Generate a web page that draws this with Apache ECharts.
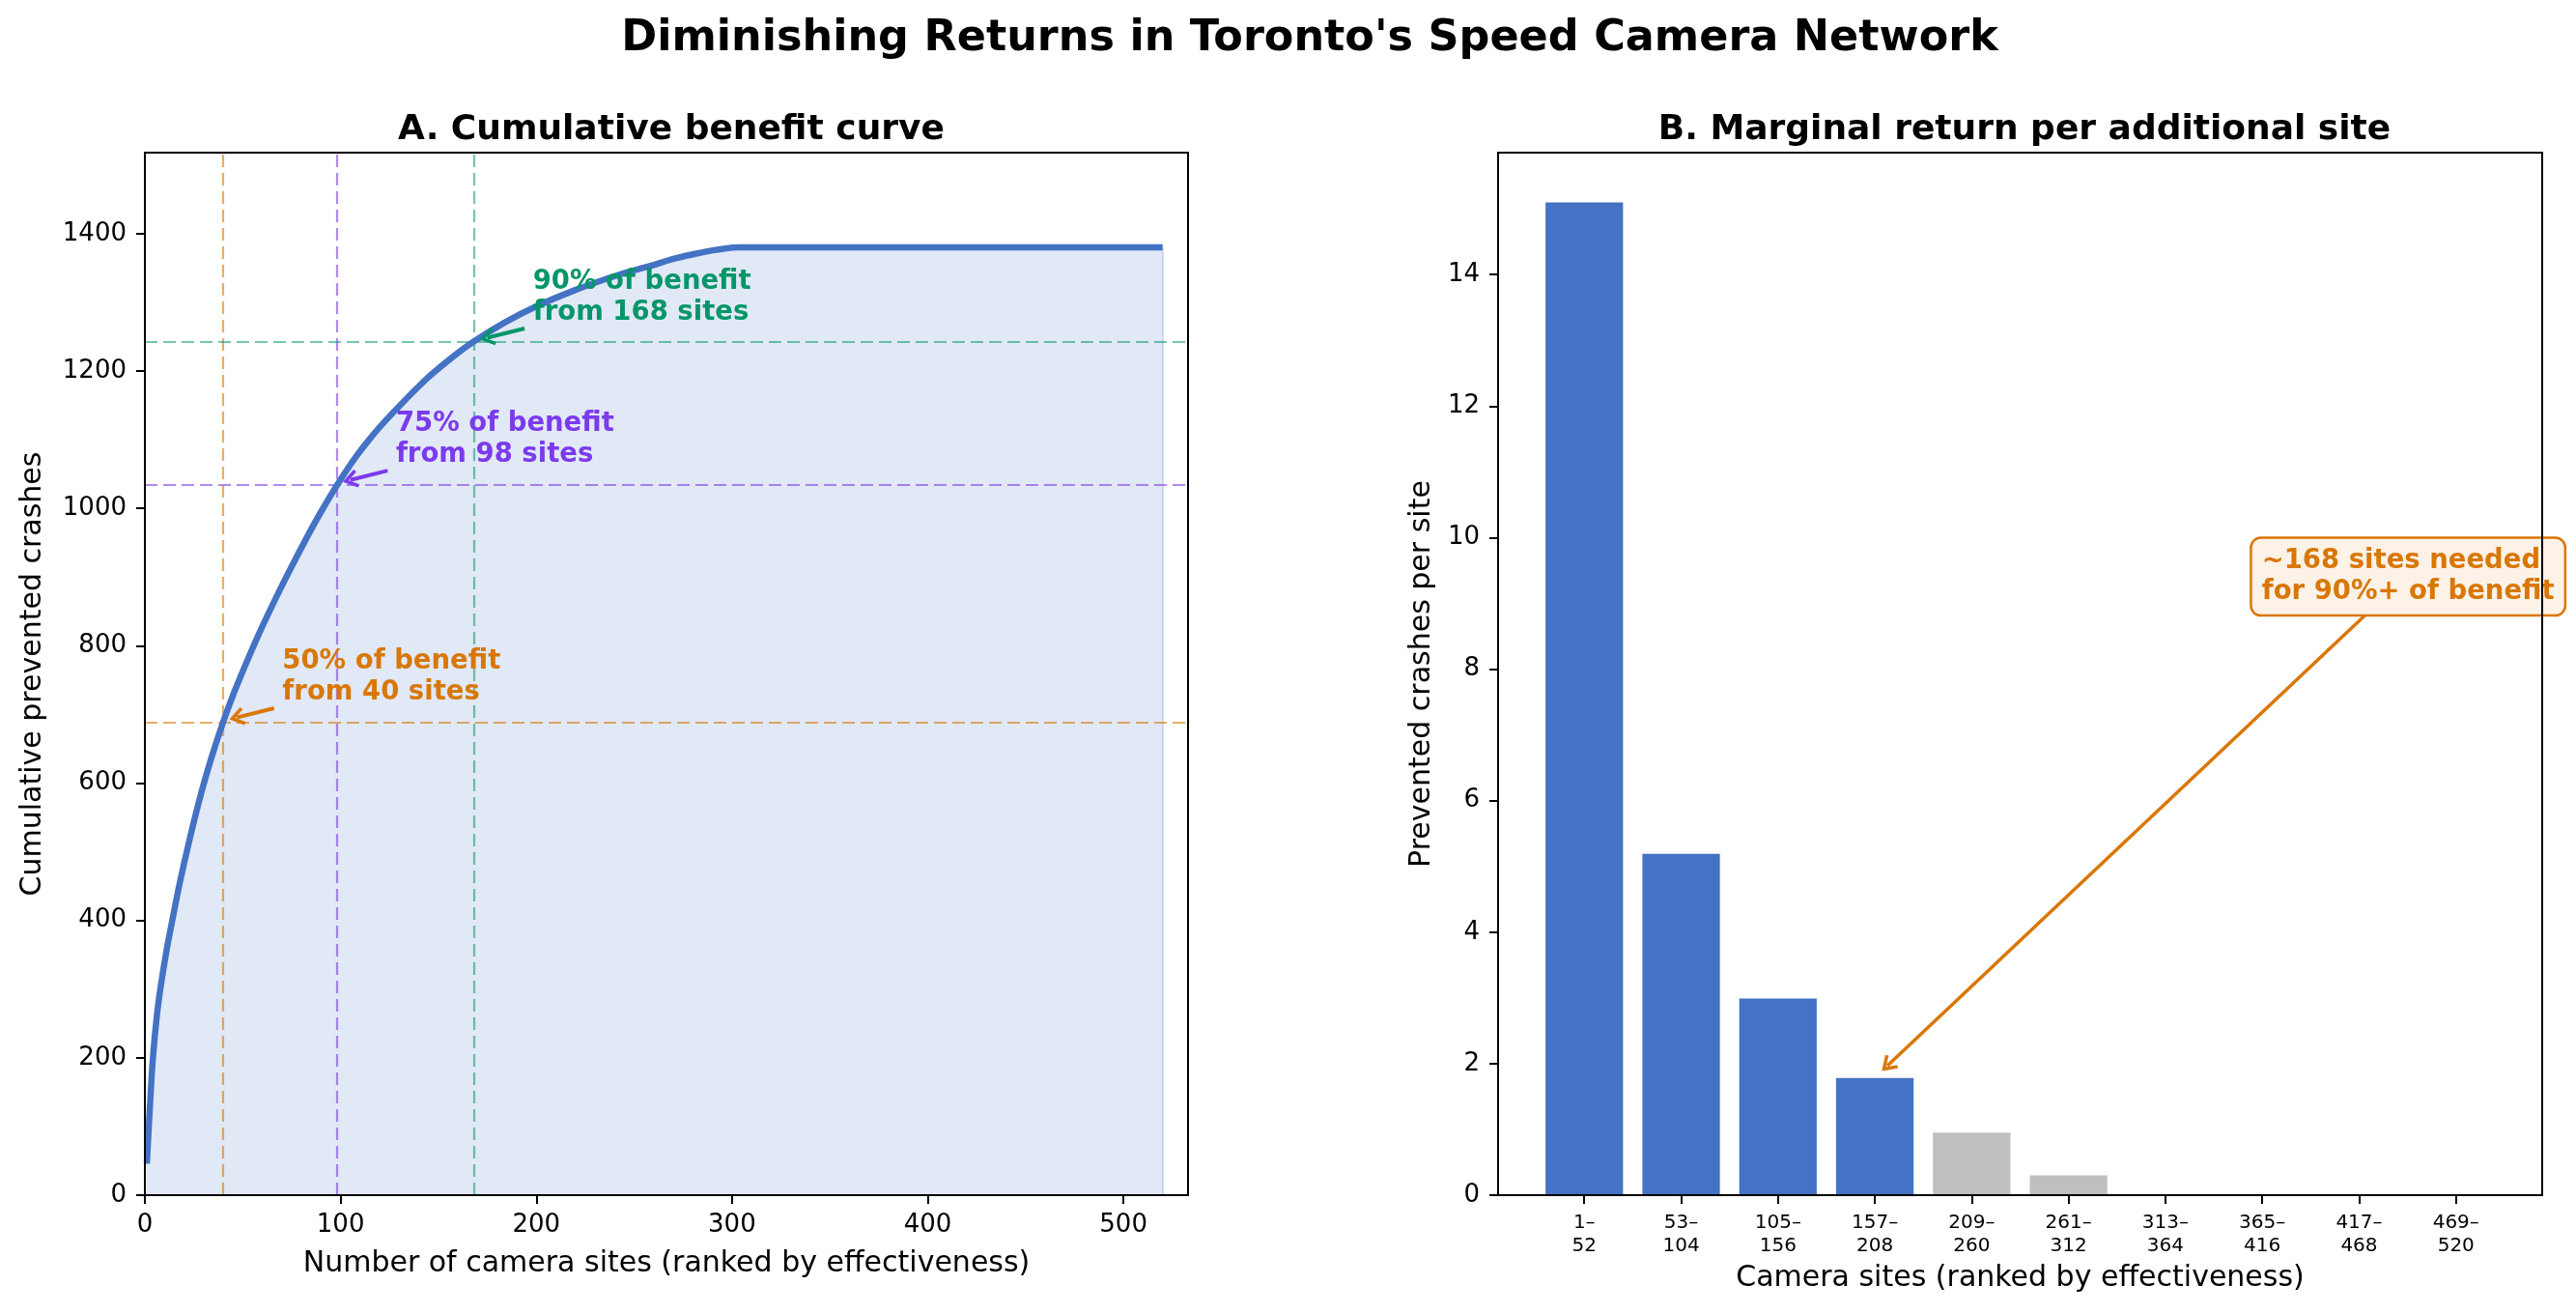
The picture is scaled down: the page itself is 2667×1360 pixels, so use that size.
<!DOCTYPE html>
<html><head><meta charset="utf-8">
<script src="https://cdn.jsdelivr.net/npm/echarts@6/dist/echarts.min.js"></script>
<style>html,body{margin:0;padding:0;background:#fff}#c{width:2667px;height:1360px}</style>
</head><body><div id="c"></div>
<script>
// ---- data ----
const curveSites  = [1, 2, 3, 4, 6, 8, 11, 14, 18, 23, 29, 34, 40, 46, 53, 60, 67, 74, 83, 90, 98, 107, 116, 124, 131, 139, 146, 157, 168, 184, 199, 219, 242, 257, 271, 285, 293, 304, 520];
const curveValues = [46, 100, 150, 196, 258, 302, 355, 400, 457, 520, 588, 637, 689, 735, 783, 828, 870, 910, 959, 995, 1033, 1072, 1105, 1131, 1152, 1175, 1194, 1220, 1243, 1271, 1293, 1317, 1340, 1352, 1364, 1373, 1377, 1380, 1380];
const milestoneSites  = [40, 98, 168];
const milestoneValues = [689, 1035, 1242];
const milestonePct    = ['50%', '75%', '90%'];
const milestoneColors = ['#D97706', '#7C3AED', '#059669'];
const milestoneLineColors = ['rgba(217,119,6,0.6)', 'rgba(124,58,237,0.6)', 'rgba(5,150,105,0.55)'];
const binLabels = ['1–\n52', '53–\n104', '105–\n156', '157–\n208', '209–\n260', '261–\n312', '313–\n364', '365–\n416', '417–\n468', '469–\n520'];
const binValues = [15.1, 5.19, 2.99, 1.78, 0.95, 0.30, 0, 0, 0, 0];
const binsForNinety = 4;
const leftXTicks  = [0, 100, 200, 300, 400, 500];
const leftYTicks  = [0, 200, 400, 600, 800, 1000, 1200, 1400];
const rightYTicks = [0, 2, 4, 6, 8, 10, 12, 14];
const rightXTicks = binLabels.map((_, i) => i);
const boxText = '~168 sites needed\nfor 90%+ of benefit';

const FONT = 'DejaVu Sans';
const chevron = 'path://M5,0 L10,7.6 L8.5,8.8 L5,3.4 L1.5,8.8 L0,7.6 Z';
const curveData = curveSites.map((s, i) => [s, curveValues[i]]);
const lastSite = curveSites[curveSites.length - 1];
const lastVal = curveValues[curveValues.length - 1];
const plain = v => String(v);

const axisCommon = {
  axisLine: { show: true, onZero: false, lineStyle: { color: '#000', width: 2 } },
  axisTick: { show: true, length: 9, lineStyle: { color: '#000', width: 2 } },
  splitLine: { show: false },
  nameTextStyle: { fontFamily: FONT, fontSize: 30, color: '#000' },
  nameLocation: 'middle'
};

const option = {
  animation: false,
  backgroundColor: '#fff',
  textStyle: { fontFamily: FONT },
  title: [
    { text: "Diminishing Returns in Toronto's Speed Camera Network", left: 1351, top: 13, textAlign: 'center',
      textStyle: { fontFamily: FONT, fontSize: 44.5, fontWeight: 'bold', color: '#000' } },
    { text: 'A. Cumulative benefit curve', left: 690, top: 112, textAlign: 'center',
      textStyle: { fontFamily: FONT, fontSize: 36, fontWeight: 'bold', color: '#000' } },
    { text: 'B. Marginal return per additional site', left: 2091, top: 112, textAlign: 'center',
      textStyle: { fontFamily: FONT, fontSize: 36, fontWeight: 'bold', color: '#000' } }
  ],
  grid: [
    { left: 150, top: 158, width: 1080, height: 1079, show: true, borderColor: '#000', borderWidth: 2, z: 10, backgroundColor: 'transparent' },
    { left: 1551, top: 158, width: 1081, height: 1079, show: true, borderColor: '#000', borderWidth: 2, z: 10, backgroundColor: 'transparent' }
  ],
  xAxis: [
    Object.assign({}, axisCommon, {
      type: 'value', gridIndex: 0, min: 0, max: 533, interval: 100,
      name: 'Number of camera sites (ranked by effectiveness)', nameGap: 56,
      axisTick: Object.assign({}, axisCommon.axisTick, { customValues: leftXTicks }),
      axisLabel: { customValues: leftXTicks, fontSize: 26, color: '#000', margin: 18, fontFamily: FONT, formatter: plain }
    }),
    Object.assign({}, axisCommon, {
      type: 'value', gridIndex: 1, min: -0.89, max: 9.89,
      name: 'Camera sites (ranked by effectiveness)', nameGap: 71,
      axisTick: Object.assign({}, axisCommon.axisTick, { customValues: rightXTicks }),
      axisLabel: { customValues: rightXTicks, fontSize: 20, lineHeight: 24, color: '#000', margin: 17, fontFamily: FONT,
        formatter: v => binLabels[Math.round(v)] || '' }
    })
  ],
  yAxis: [
    Object.assign({}, axisCommon, {
      type: 'value', gridIndex: 0, min: 0, max: 1518, interval: 200,
      name: 'Cumulative prevented crashes', nameGap: 101,
      axisTick: Object.assign({}, axisCommon.axisTick, { customValues: leftYTicks }),
      axisLabel: { customValues: leftYTicks, fontSize: 26, color: '#000', margin: 19, fontFamily: FONT, formatter: plain }
    }),
    Object.assign({}, axisCommon, {
      type: 'value', gridIndex: 1, min: 0, max: Math.max(...binValues) * 1.05, interval: 2,
      name: 'Prevented crashes per site', nameGap: 64,
      axisTick: Object.assign({}, axisCommon.axisTick, { customValues: rightYTicks }),
      axisLabel: { customValues: rightYTicks, fontSize: 26, color: '#000', margin: 19, fontFamily: FONT, formatter: plain }
    })
  ],
  series: [
    { // shaded area under the curve
      type: 'line', xAxisIndex: 0, yAxisIndex: 0, z: 1, data: curveData,
      showSymbol: false, smooth: 0.4, silent: true,
      lineStyle: { width: 0, opacity: 0 },
      areaStyle: { color: 'rgba(68,114,196,0.16)', opacity: 1, origin: 'start' },
      markLine: {
        silent: true, symbol: 'none', z: 1, label: { show: false },
        lineStyle: { color: 'rgba(68,114,196,0.22)', width: 2, type: 'solid' },
        data: [[{ coord: [lastSite, 0] }, { coord: [lastSite, lastVal] }]]
      }
    },
    { // reference dashed lines
      type: 'line', xAxisIndex: 0, yAxisIndex: 0, z: 2, data: [], silent: true,
      markLine: {
        silent: true, symbol: 'none', z: 2, label: { show: false },
        data: milestoneSites.flatMap((s, i) => [
          { xAxis: s, lineStyle: { color: milestoneLineColors[i], width: 2.2, type: [13, 6] } },
          { yAxis: milestoneValues[i], lineStyle: { color: milestoneLineColors[i], width: 2.2, type: [13, 6] } }
        ])
      }
    },
    { // the curve
      type: 'line', xAxisIndex: 0, yAxisIndex: 0, z: 4, data: curveData,
      showSymbol: false, smooth: 0.4, silent: true,
      lineStyle: { color: '#4472C4', width: 6.5, cap: 'butt' },
      markLine: {
        silent: true, z: 6, label: { show: false },
        symbol: ['none', chevron], symbolSize: [19, 16],
        data: milestoneSites.map((s, i) => [
          { coord: [s + 26, milestoneValues[i] + 20], lineStyle: { color: milestoneColors[i], width: 4, type: 'solid' } },
          { coord: [s + 7, milestoneValues[i] + 6.5], lineStyle: { color: milestoneColors[i], width: 4, type: 'solid' },
            itemStyle: { color: milestoneColors[i] } }
        ])
      },
      markPoint: {
        silent: true, z: 7, symbol: 'circle', symbolSize: 1, itemStyle: { color: 'rgba(0,0,0,0)' },
        data: milestoneSites.map((s, i) => ({
          coord: [s + 30.5, milestoneValues[i] + 29.5],
          label: {
            show: true, position: [0, 0], align: 'left', verticalAlign: 'bottom', offset: [0, 7],
            formatter: milestonePct[i] + ' of benefit\nfrom ' + s + ' sites',
            color: milestoneColors[i], fontFamily: FONT, fontWeight: 'bold', fontSize: 27.5, lineHeight: 32
          }
        }))
      }
    },
    { // marginal bars
      type: 'bar', xAxisIndex: 1, yAxisIndex: 1, z: 2, barWidth: '80%', silent: true,
      data: binValues.map((v, i) => ({ value: [i, v], itemStyle: { color: i < binsForNinety ? '#4472C4' : '#BFBFBF' } })),
      markLine: {
        silent: true, z: 6, label: { show: false },
        symbol: ['none', chevron], symbolSize: [19, 16],
        lineStyle: { color: '#D97706', width: 3.5, type: 'solid' },
        itemStyle: { color: '#D97706' },
        data: [[{ coord: [8.07, 8.83] }, { coord: [binsForNinety - 1 + 0.13, binValues[binsForNinety - 1] + 0.19] }]]
      },
      markPoint: {
        silent: true, z: 7, symbol: 'circle', symbolSize: 1, itemStyle: { color: 'rgba(0,0,0,0)' },
        data: [{
          coord: [6.9, 9.4],
          label: {
            show: true, position: [0, 0], align: 'left', verticalAlign: 'middle',
            formatter: boxText, color: '#D97706', fontFamily: FONT, fontWeight: 'bold', fontSize: 27.5, lineHeight: 32,
            backgroundColor: '#fcf2e7', borderColor: '#D97706', borderWidth: 2.5, borderRadius: 9, padding: [7, 10, 7, 10]
          }
        }]
      }
    }
  ]
};

const chart = echarts.init(document.getElementById('c'), null, { renderer: 'canvas', width: 2667, height: 1360 });
chart.setOption(option);
</script>
</body></html>
